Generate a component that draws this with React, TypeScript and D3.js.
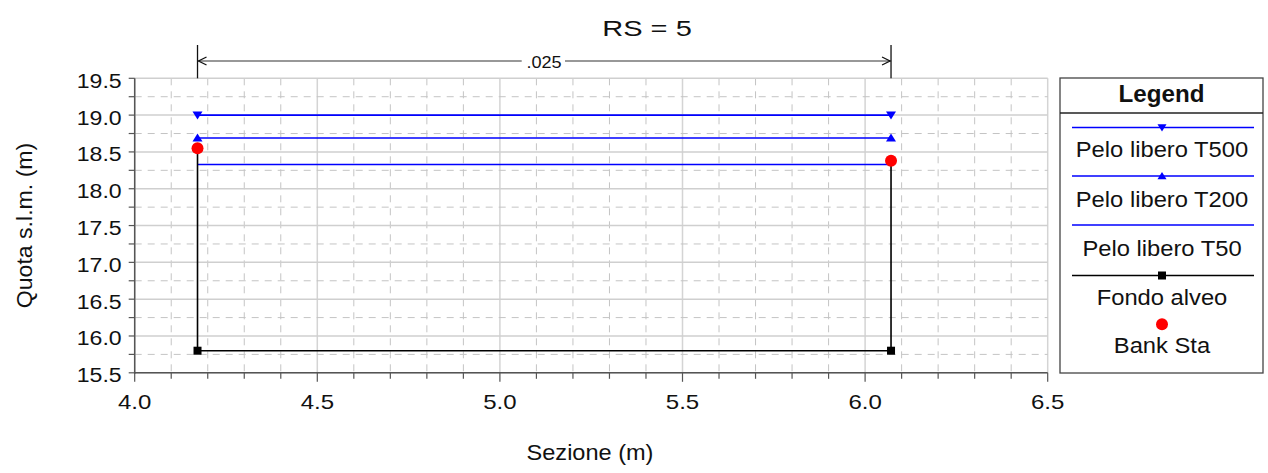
import React from "react";
import * as d3 from "d3";

const W = 1268;
const H = 473;

// Data
const bankX = [4.172, 6.071];
const bankY = [18.55, 18.38];
const fondoX = [4.172, 4.172, 6.071, 6.071];
const fondoY = [18.55, 15.8, 15.8, 18.38];
const wsT500 = 19.0;
const wsT200 = 18.69;
const wsT50 = 18.33;
const xTicks = [4.0, 4.5, 5.0, 5.5, 6.0, 6.5];
const yTicks = [15.5, 16.0, 16.5, 17.0, 17.5, 18.0, 18.5, 19.0, 19.5];
const legendItems = ["Pelo libero T500", "Pelo libero T200", "Pelo libero T50", "Fondo alveo", "Bank Sta"];
const dimLabel = ".025";
const title = "RS = 5";

const FONT = "Liberation Sans, Arial, sans-serif";

function T(props: {
  x: number; y: number; size: number; sx?: number; anchor?: string; weight?: string; rotate?: number; children: React.ReactNode;
}) {
  const { x, y, size, sx = 1, anchor = "middle", weight, rotate, children } = props;
  const tr = `translate(${x},${y})${rotate ? ` rotate(${rotate})` : ""} scale(${sx},1)`;
  return (
    <text transform={tr} textAnchor={anchor} fontSize={size} fontWeight={weight} fill="#111">
      {children}
    </text>
  );
}

export default function App() {
  const left = 134.7, right = 1047.7, top = 78.3, bottom = 372.8;
  const x = d3.scaleLinear().domain([4.0, 6.5]).range([left, right]);
  const y = d3.scaleLinear().domain([15.5, 19.5]).range([bottom, top]);

  const minorX = d3.range(0, 26).map((i) => 4.0 + i * 0.1);
  const minorY = d3.range(0, 17).map((i) => 15.5 + i * 0.25);

  const line = d3.line<[number, number]>().x((d) => x(d[0])).y((d) => y(d[1]));
  const fondoPts: [number, number][] = fondoX.map((v, i) => [v, fondoY[i]]);
  const xL = bankX[0], xR = bankX[1];

  const tri = (cx: number, cy: number, down: boolean, s = 5) =>
    down
      ? `M${cx - s},${cy - s * 0.7}L${cx + s},${cy - s * 0.7}L${cx},${cy + s * 0.9}Z`
      : `M${cx - s},${cy + s * 0.7}L${cx + s},${cy + s * 0.7}L${cx},${cy - s * 0.9}Z`;

  const dimY = 61;
  const legX0 = 1060, legX1 = 1263, legTop = 78, legBot = 373;
  const legLineX0 = 1072, legLineX1 = 1254, legMid = 1162;
  const legLineY = [127.5, 176, 225, 275.5];
  const legTextY = [156.7, 206.5, 256, 305, 353.3];

  return (
    <svg width={W} height={H} style={{ position: "absolute", left: 0, top: 0, background: "#fff" }} fontFamily={FONT}>
      <rect width={W} height={H} fill="#fff" />
      {/* Grid */}
      {minorX.map((v, i) => {
        const major = i % 5 === 0;
        return (
          <line key={"gx" + i} x1={x(v)} x2={x(v)} y1={top} y2={bottom}
            stroke={major ? "#d4d4d4" : "#c4c4c4"} strokeWidth={major ? 1.5 : 1}
            strokeDasharray={major ? undefined : "7,6"} />
        );
      })}
      {minorY.map((v, i) => {
        const major = i % 2 === 0;
        return (
          <line key={"gy" + i} x1={left} x2={right} y1={y(v)} y2={y(v)}
            stroke={major ? "#cfcfcf" : "#c4c4c4"} strokeWidth={major ? 1.5 : 1}
            strokeDasharray={major ? undefined : "7,6"} />
        );
      })}
      {/* Axes */}
      <line x1={left} x2={left} y1={top} y2={bottom + 1} stroke="#555" strokeWidth={1.5} />
      <line x1={left} x2={right} y1={bottom} y2={bottom} stroke="#555" strokeWidth={1.5} />
      {minorY.map((v, i) => (
        <line key={"ty" + i} x1={left - 6} x2={left} y1={y(v)} y2={y(v)} stroke="#555" strokeWidth={1.2} />
      ))}
      {minorX.map((v, i) => (
        <line key={"tx" + i} x1={x(v)} x2={x(v)} y1={bottom} y2={bottom + (i % 5 === 0 ? 9 : 6)} stroke="#555" strokeWidth={1.2} />
      ))}
      {yTicks.map((v) => (
        <T key={"yl" + v} x={121.7} y={y(v) + 9.4} size={21} sx={1.1} anchor="end">{v.toFixed(1)}</T>
      ))}
      {xTicks.map((v) => (
        <T key={"xl" + v} x={x(v)} y={409} size={20} sx={1.2}>{v.toFixed(1)}</T>
      ))}
      {/* Water surfaces */}
      {[wsT500, wsT200, wsT50].map((ws, i) => (
        <line key={"ws" + i} x1={x(xL)} x2={x(xR)} y1={y(ws)} y2={y(ws)} stroke="#0000ff" strokeWidth={1.6} />
      ))}
      {[xL, xR].map((v, i) => (
        <g key={"wm" + i}>
          <path d={tri(x(v), y(wsT500), true)} fill="#0000ff" />
          <path d={tri(x(v), y(wsT200), false)} fill="#0000ff" />
        </g>
      ))}
      {/* Ground */}
      <path d={line(fondoPts) || ""} fill="none" stroke="#000" strokeWidth={1.6} />
      {fondoPts.filter((p, i) => i === 1 || i === 2).map((p, i) => (
        <rect key={"fm" + i} x={x(p[0]) - 4} y={y(p[1]) - 4} width={8} height={8} fill="#000" />
      ))}
      {/* Bank stations */}
      {bankX.map((v, i) => (
        <circle key={"bk" + i} cx={x(v)} cy={y(bankY[i])} r={6} fill="#ff0000" />
      ))}
      {/* Dimension line */}
      <line x1={x(xL)} x2={x(xL)} y1={45} y2={top} stroke="#111" strokeWidth={1.3} />
      <line x1={x(xR)} x2={x(xR)} y1={45} y2={top} stroke="#111" strokeWidth={1.3} />
      <line x1={x(xL)} x2={x(xR)} y1={dimY} y2={dimY} stroke="#333" strokeWidth={1.2} />
      <path d={`M${x(xL) + 9},${dimY - 4}L${x(xL) + 1},${dimY}L${x(xL) + 9},${dimY + 4}`} fill="none" stroke="#111" strokeWidth={1.3} />
      <path d={`M${x(xR) - 9},${dimY - 4}L${x(xR) - 1},${dimY}L${x(xR) - 9},${dimY + 4}`} fill="none" stroke="#111" strokeWidth={1.3} />
      <rect x={521.7} y={dimY - 8} width={43.3} height={16} fill="#fff" />
      <T x={544} y={68.3} size={16} sx={1.13}>{dimLabel}</T>
      {/* Title & labels */}
      <T x={647} y={35.7} size={22} sx={1.32}>{title}</T>
      <T x={590} y={460} size={22} sx={1.07}>Sezione (m)</T>
      <T x={32} y={225.5} size={22} sx={1.05} rotate={-90}>Quota s.l.m. (m)</T>
      {/* Legend */}
      <rect x={legX0} y={legTop} width={legX1 - legX0} height={legBot - legTop} fill="#fff" stroke="#444" strokeWidth={1.3} />
      <line x1={legX0} x2={legX1} y1={113} y2={113} stroke="#222" strokeWidth={1.3} />
      <T x={(legX0 + legX1) / 2} y={101.7} size={23} sx={1.05} weight="bold">Legend</T>
      {legLineY.map((ly, i) => (
        <line key={"ll" + i} x1={legLineX0} x2={legLineX1} y1={ly} y2={ly} stroke={i === 3 ? "#000" : "#0000ff"} strokeWidth={1.6} />
      ))}
      <path d={tri(legMid, legLineY[0], true, 4.5)} fill="#0000ff" />
      <path d={tri(legMid, legLineY[1], false, 4.5)} fill="#0000ff" />
      <rect x={legMid - 4} y={legLineY[3] - 4} width={8} height={8} fill="#000" />
      <circle cx={legMid} cy={324.3} r={6} fill="#ff0000" />
      {legendItems.map((t, i) => (
        <T key={"lt" + i} x={legMid} y={legTextY[i]} size={22} sx={1.08}>{t}</T>
      ))}
    </svg>
  );
}
